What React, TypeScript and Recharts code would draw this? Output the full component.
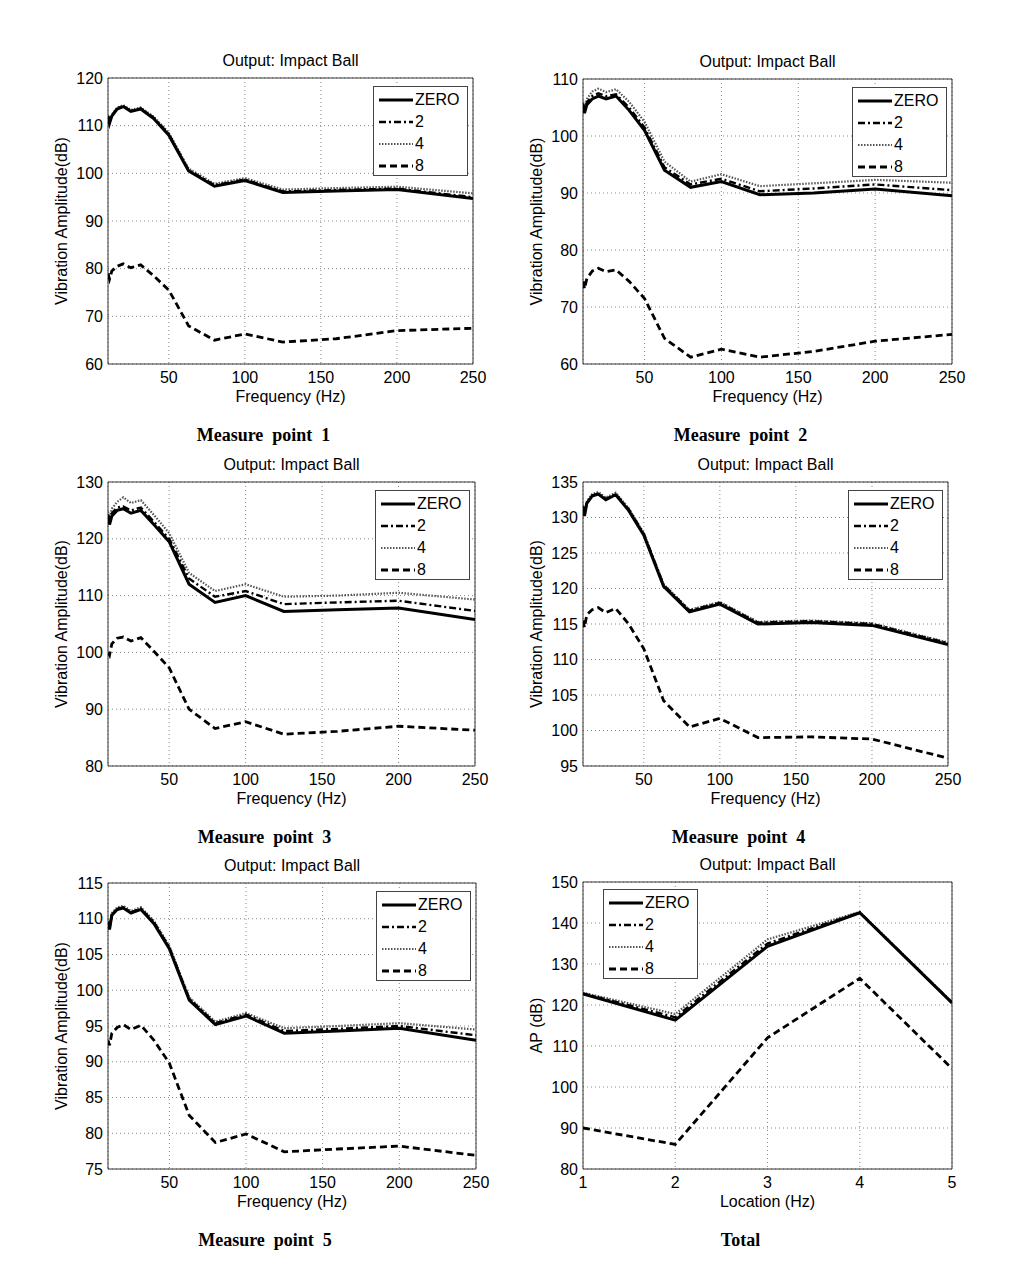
import React from 'react';
import { LineChart, Line, XAxis, YAxis, CartesianGrid, ReferenceArea, Legend, Label } from 'recharts';

// ---------- data ----------
const FREQ = [10, 11, 12.5, 16, 20, 25, 31.5, 40, 50, 63, 80, 100, 125, 160, 200, 250];
const FREQ_TICKS = [50, 100, 150, 200, 250];

const P1_ZERO = [112, 110.5, 112, 113.5, 114, 113, 113.5, 111.5, 108, 100.5, 97.3, 98.5, 96, 96.3, 96.6, 94.7];
const P1_2 = [112, 110.6, 112.1, 113.6, 114.1, 113.1, 113.6, 111.7, 108.2, 100.7, 97.5, 98.7, 96.2, 96.5, 96.8, 95.0];
const P1_4 = [112.2, 110.8, 112.3, 113.8, 114.3, 113.3, 113.8, 111.9, 108.5, 101, 97.8, 99, 96.6, 96.9, 97.2, 95.8];
const P1_8 = [79, 77.8, 79.5, 80.5, 81, 80.2, 80.8, 78.5, 75.5, 68, 65, 66.3, 64.6, 65.3, 67, 67.5];

const P2_ZERO = [105.5, 104, 105.5, 106.5, 107, 106.5, 107, 104.5, 101, 94, 91, 92, 89.7, 90, 90.7, 89.5];
const P2_2 = [105.7, 104.3, 105.9, 107, 107.5, 107, 107.3, 105, 101.5, 94.5, 91.5, 92.5, 90.3, 90.8, 91.5, 90.5];
const P2_4 = [106, 104.7, 106.5, 107.8, 108.3, 107.7, 108.2, 106, 102.5, 95.5, 92, 93.3, 91.2, 91.7, 92.3, 91.8];
const P2_8 = [74.5, 73.2, 75, 76.3, 76.8, 76.2, 76.5, 74.5, 71.5, 64.5, 61.2, 62.6, 61.2, 62.2, 64, 65.2];

const P3_ZERO = [124, 122.5, 124, 125, 125.3, 124.5, 125, 122.5, 119.5, 112, 108.8, 110, 107.2, 107.5, 107.8, 105.8];
const P3_2 = [124.3, 123, 124.5, 125.5, 125.7, 125, 125.5, 123, 120, 113, 109.8, 110.8, 108.5, 108.8, 109.1, 107.3];
const P3_4 = [124.8, 123.5, 125.3, 126.5, 127.3, 126.3, 126.8, 124.2, 121, 114, 110.8, 112, 109.8, 110, 110.5, 109.3];
const P3_8 = [100, 99.5, 101.5, 102.5, 102.7, 102, 102.6, 100.2, 97.3, 90, 86.6, 87.8, 85.6, 86.1, 87, 86.3];

const P4_ZERO = [131.5, 130.2, 132, 133, 133.3, 132.5, 133.2, 131, 127.5, 120.3, 116.7, 117.8, 115, 115.2, 114.8, 112.1];
const P4_2 = [131.6, 130.3, 132.1, 133.1, 133.4, 132.6, 133.3, 131.2, 127.7, 120.5, 116.9, 118, 115.2, 115.4, 115, 112.3];
const P4_4 = [131.8, 130.5, 132.3, 133.3, 133.6, 132.8, 133.5, 131.3, 127.8, 120.6, 117, 118.1, 115.3, 115.5, 115.1, 112.4];
const P4_8 = [115.5, 114.5, 116.3, 117, 117.3, 116.6, 117.2, 115, 111.5, 104.2, 100.5, 101.7, 99, 99.1, 98.8, 96.1];

const P5_ZERO = [109.5, 108.5, 110.5, 111.3, 111.5, 110.8, 111.3, 109.3, 105.8, 98.6, 95.2, 96.4, 94, 94.3, 94.7, 93];
const P5_2 = [109.6, 108.6, 110.6, 111.4, 111.6, 110.9, 111.4, 109.5, 106, 98.8, 95.4, 96.6, 94.3, 94.6, 95, 93.7];
const P5_4 = [109.7, 108.8, 110.8, 111.6, 111.8, 111.1, 111.6, 109.7, 106.2, 99, 95.6, 96.8, 94.7, 95, 95.4, 94.5];
const P5_8 = [93, 92.3, 94, 94.8, 95.2, 94.5, 95.1, 93, 89.8, 82.5, 78.7, 79.9, 77.4, 77.8, 78.2, 76.9];

const LOCATIONS = [1, 2, 3, 4, 5];
const P6_ZERO = [122.7, 116.3, 134.3, 142.5, 120.5];
const P6_2 = [122.8, 117, 135, 142.6, 120.6];
const P6_4 = [123, 117.8, 136, 142.7, 120.7];
const P6_8 = [90, 86, 112, 126.5, 104.5];

const SERIES = [
  { key: 'zero', name: 'ZERO', dash: undefined as string | undefined, width: 3, color: '#000' },
  { key: 's2', name: '2', dash: '7 3 2 3', width: 2.4, color: '#000' },
  { key: 's4', name: '4', dash: '1.5 1.5', width: 2.2, color: '#555' },
  { key: 's8', name: '8', dash: '7 4', width: 2.8, color: '#000' },
];
const DRAW_ORDER = ['s4', 's2', 'zero', 's8'];

const FONT = 'Arial, "Liberation Sans", sans-serif';

function buildRows(xs: number[], zero: number[], s2: number[], s4: number[], s8: number[]) {
  return xs.map((x, i) => ({ x, zero: zero[i], s2: s2[i], s4: s4[i], s8: s8[i] }));
}

type PanelProps = {
  L: number; T: number; R: number; B: number;
  data: any[];
  xDomain: [number, number]; xTicks: number[];
  yDomain: [number, number]; yTicks: number[];
  xLabel: string; yLabel: string;
  legendLeft?: boolean;
  caption: string;
};

const renderLegend = () => (
  <div style={{ border: '1px solid #444', background: '#fff', width: 95, height: 90, boxSizing: 'border-box', paddingTop: 2, fontFamily: FONT, fontSize: 16, color: '#000' }}>
    {SERIES.map((s) => (
      <div key={s.key} style={{ display: 'flex', alignItems: 'center', height: 22 }}>
        <svg width={40} height={22} style={{ display: 'block' }}>
          <line x1={5} x2={39} y1={11} y2={11} stroke={s.color} strokeWidth={s.width} strokeDasharray={s.dash} />
        </svg>
        <span style={{ marginLeft: 1, lineHeight: '22px' }}>{s.name}</span>
      </div>
    ))}
  </div>
);

function Panel(p: PanelProps) {
  const plotW = p.R - p.L;
  const plotH = p.B - p.T;
  const width = plotW + 84;
  const height = plotH + 80;
  const legendLeft = p.legendLeft ? 60 + 20 : 60 + plotW - 5 - 95;
  const legendTop = p.legendLeft ? 30 + 7 : 30 + 8;
  const cx = (p.L + p.R) / 2;
  return (
    <>
      <div style={{ position: 'absolute', left: cx - 150, width: 300, top: p.T - 26, height: 18, lineHeight: '18px', textAlign: 'center', fontFamily: FONT, fontSize: 16, color: '#000' }}>
        Output: Impact Ball
      </div>
      <div style={{ position: 'absolute', left: p.L - 60, top: p.T - 30 }}>
        <LineChart width={width} height={height} data={p.data} margin={{ top: 30, right: 24, left: 0, bottom: 0 }}>
          <CartesianGrid stroke="#888" strokeDasharray="1 3" />
          <XAxis
            dataKey="x" type="number" domain={p.xDomain} ticks={p.xTicks} interval={0} allowDataOverflow
            tickLine={false} axisLine={false} height={50} tickSize={6} tickMargin={2}
            tick={{ fill: '#000', fontSize: 16, fontFamily: FONT }}
          >
            <Label value={p.xLabel} position="insideBottom" offset={12} style={{ fill: '#000', fontSize: 16, fontFamily: FONT }} />
          </XAxis>
          <YAxis
            type="number" domain={p.yDomain} ticks={p.yTicks} interval={0} allowDataOverflow
            tickLine={false} axisLine={false} width={60} tickSize={3} tickMargin={2}
            tick={{ fill: '#000', fontSize: 16, fontFamily: FONT }}
          >
            <Label value={p.yLabel} angle={-90} position="insideLeft" offset={13} style={{ fill: '#000', fontSize: 16, fontFamily: FONT, textAnchor: 'middle' }} />
          </YAxis>
          {DRAW_ORDER.map((k) => {
            const s = SERIES.find((q) => q.key === k)!;
            return (
              <Line key={s.key} type="linear" dataKey={s.key} name={s.name} stroke={s.color} strokeWidth={s.width}
                strokeDasharray={s.dash} dot={false} activeDot={false} isAnimationActive={false} />
            );
          })}
          <ReferenceArea x1={p.xDomain[0]} x2={p.xDomain[1]} y1={p.yDomain[0]} y2={p.yDomain[1]} fill="none" fillOpacity={0} stroke="#333" strokeWidth={1} ifOverflow="visible" />
          <Legend layout="vertical" align="center" verticalAlign="middle" content={renderLegend}
            wrapperStyle={{ left: legendLeft, top: legendTop, width: 95, height: 90 }} />
        </LineChart>
      </div>
      <div style={{ position: 'absolute', left: cx - 27 - 150, width: 300, top: p.B + 71 - 11, height: 22, lineHeight: '22px', textAlign: 'center', fontFamily: '"Liberation Serif", "Times New Roman", serif', fontWeight: 'bold', fontSize: 18, color: '#000', whiteSpace: 'pre' }}>
        {p.caption}
      </div>
    </>
  );
}

export default function App() {
  const freqPanels = [
    { L: 108, T: 78, R: 473, B: 364, data: buildRows(FREQ, P1_ZERO, P1_2, P1_4, P1_8), yDomain: [60, 120] as [number, number], yTicks: [60, 70, 80, 90, 100, 110, 120], caption: 'Measure  point  1' },
    { L: 583, T: 79, R: 952, B: 364, data: buildRows(FREQ, P2_ZERO, P2_2, P2_4, P2_8), yDomain: [60, 110] as [number, number], yTicks: [60, 70, 80, 90, 100, 110], caption: 'Measure  point  2' },
    { L: 108, T: 482, R: 475, B: 766, data: buildRows(FREQ, P3_ZERO, P3_2, P3_4, P3_8), yDomain: [80, 130] as [number, number], yTicks: [80, 90, 100, 110, 120, 130], caption: 'Measure  point  3' },
    { L: 583, T: 482, R: 948, B: 766, data: buildRows(FREQ, P4_ZERO, P4_2, P4_4, P4_8), yDomain: [95, 135] as [number, number], yTicks: [95, 100, 105, 110, 115, 120, 125, 130, 135], caption: 'Measure  point  4' },
    { L: 108, T: 883, R: 476, B: 1169, data: buildRows(FREQ, P5_ZERO, P5_2, P5_4, P5_8), yDomain: [75, 115] as [number, number], yTicks: [75, 80, 85, 90, 95, 100, 105, 110, 115], caption: 'Measure  point  5' },
  ];
  return (
    <div style={{ position: 'absolute', left: 0, top: 0, width: 1016, height: 1265, background: '#fff', overflow: 'hidden' }}>
      {freqPanels.map((fp, i) => (
        <Panel key={i} {...fp} xDomain={[10, 250]} xTicks={FREQ_TICKS} xLabel="Frequency (Hz)" yLabel="Vibration Amplitude(dB)" />
      ))}
      <Panel L={583} T={882} R={952} B={1169}
        data={buildRows(LOCATIONS, P6_ZERO, P6_2, P6_4, P6_8)}
        xDomain={[1, 5]} xTicks={LOCATIONS}
        yDomain={[80, 150]} yTicks={[80, 90, 100, 110, 120, 130, 140, 150]}
        xLabel="Location (Hz)" yLabel="AP (dB)" legendLeft caption="Total" />
    </div>
  );
}
